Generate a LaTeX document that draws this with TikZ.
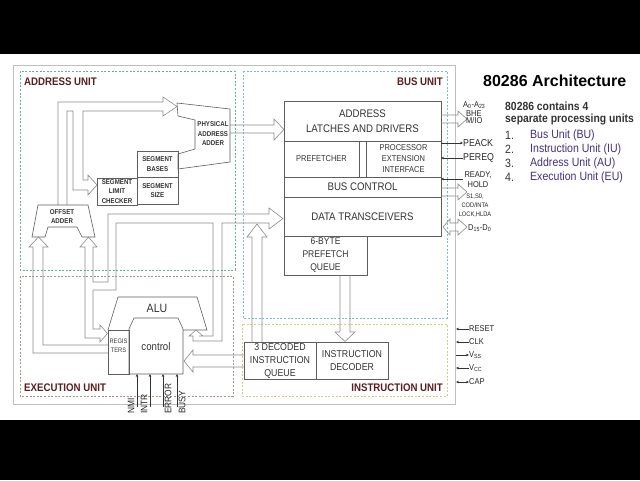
\documentclass[tikz,border=0pt]{standalone}
\usepackage{fontspec}
\setmainfont{Liberation Sans}
\newfontfamily\narrowfont{Liberation Sans}[FakeStretch=0.88]
\usetikzlibrary{arrows.meta}
\definecolor{unitred}{HTML}{5A1E1E}
\definecolor{listblue}{HTML}{46307F}
\definecolor{aucol}{HTML}{6AAE9C}
\definecolor{bucol}{HTML}{7DBCCB}
\definecolor{eucol}{HTML}{A8968A}
\definecolor{iucol}{HTML}{D8CA8A}
\definecolor{boxgray}{HTML}{5E5E5E}
\definecolor{pipegray}{HTML}{8C8C8C}
\definecolor{textgray}{HTML}{333333}
\newcommand{\nfs}[2]{\narrowfont\fontsize{#1}{#2}\selectfont}
\tikzset{
  shp/.style={draw=boxgray, line width=0.6pt},
  pipe/.style={draw=pipegray, line width=0.6pt, line join=miter},
  blk/.style={draw=boxgray, line width=0.6pt, inner sep=0pt, outer sep=0pt,
    align=center, text=textgray, font=\nfs{11}{14.5}},
  tinyblk/.style={blk, font=\nfs{7}{9.5}\bfseries},
  txt/.style={inner sep=0pt, align=center, text=textgray},
  unitbox/.style={dash pattern=on 2pt off 1.6pt, line width=0.7pt},
  unitlabel/.style={inner sep=0pt, text=unitred, font=\nfs{11}{12}\bfseries},
  sig/.style={inner sep=0pt, anchor=west, text=black!85, font=\nfs{10}{11}},
  sigline/.style={draw=black!80, line width=0.5pt},
  sigtip/.style={sigline, -{Stealth[length=3pt,width=2.6pt]}},
  tipin/.style={sigline, {Stealth[length=3pt,width=2.6pt]}-},
  tipboth/.style={sigline, {Stealth[length=3pt,width=2.6pt]}-{Stealth[length=3pt,width=2.6pt]}},
}
\begin{document}
\begin{tikzpicture}[x=1pt,y=-1pt]
  \useasboundingbox (0,0) rectangle (640,480);
  \fill[black] (0,0) rectangle (640,54);
  \fill[black] (0,420) rectangle (640,480);
  \fill[white] (0,54) rectangle (640,420);

  % outer frame and units
  \draw[black!25, line width=1pt] (13,65) rectangle (455,404);
  \draw[unitbox, aucol] (20,71) rectangle (235,270);
  \draw[unitbox, bucol] (243,71) rectangle (447,318);
  \draw[unitbox, eucol] (20,276) rectangle (233,396);
  \draw[unitbox, iucol] (242,324) rectangle (447,396);
  \node[unitlabel, anchor=west] (aulbl) at (24,82) {ADDRESS UNIT};
  \node[unitlabel, anchor=east] (bulbl) at (443,82) {BUS UNIT};
  \node[unitlabel, anchor=west] (eulbl) at (24,388) {EXECUTION UNIT};
  \node[unitlabel, anchor=east] (iulbl) at (443,388) {INSTRUCTION UNIT};

  % bus unit
  \node[blk, minimum width=157, minimum height=40] (latch) at (362.5,121) {ADDRESS\\LATCHES AND DRIVERS};
  \node[blk, font=\nfs{8.5}{11}, minimum width=75, minimum height=36] (pref) at (321.5,159) {PREFETCHER};
  \node[blk, font=\nfs{8.5}{11}, minimum width=75, minimum height=36] (pei) at (403.5,159) {PROCESSOR\\EXTENSION\\INTERFACE};
  \node[blk, minimum width=157, minimum height=20] (busctl) at (362.5,187) {BUS CONTROL};
  \node[blk, minimum width=157, minimum height=39] (datatr) at (362.5,216.5) {DATA TRANSCEIVERS};
  \node[blk, font=\nfs{9.7}{13}, minimum width=83, minimum height=39] (pfq) at (325.5,255.5) {6-BYTE\\PREFETCH\\QUEUE};

  % instruction unit
  \node[blk, font=\nfs{10}{13}, minimum width=72, minimum height=37] (dq) at (280,360.5) {3 DECODED\\INSTRUCTION\\QUEUE};
  \node[blk, font=\nfs{10}{13}, minimum width=72, minimum height=37] (idec) at (352,360.5) {INSTRUCTION\\DECODER};

  % address unit
  \draw[shp] (177,103) -- (230,109) -- (230,162) -- (178,169) -- (178,154)
    -- (195,149) -- (195,120) -- (178,116) -- cycle;
  \node[txt, font=\nfs{7}{9.5}\bfseries] (paa) at (213,134) {PHYSICAL\\ADDRESS\\ADDER};
  \node[tinyblk, minimum width=41, minimum height=26] (segb) at (157.5,164) {SEGMENT\\BASES};
  \node[tinyblk, minimum width=41, minimum height=27] (segs) at (157.5,190.5) {SEGMENT\\SIZE};
  \node[tinyblk, minimum width=40, minimum height=27] (seglim) at (117,191.5) {SEGMENT\\LIMIT\\CHECKER};
  \draw[shp] (38,205) -- (88,205) -- (95,237) -- (82,237) -- (77,227)
    -- (48,227) -- (45,237) -- (32,237) -- cycle;
  \node[txt, font=\nfs{7}{9.5}\bfseries] (offs) at (62,216.5) {OFFSET\\ADDER};

  % execution unit
  \draw[shp] (108,330) -- (118,297) -- (197,297) -- (207,330) -- (183,330);
  \node[txt, font=\nfs{12}{13}] (alu) at (157,308) {ALU};
  \node[blk, minimum width=21, minimum height=44] (regs) at (118.5,352) {};
  \node[txt, font=\nfs{6.5}{9}] (regtxt) at (118.5,345.5) {REGIS\\TERS};
  \draw[shp] (129,374) -- (129,329) -- (134,318) -- (178,318) -- (183,329) -- (183,374) -- cycle;
  \node[txt, font=\nfs{11}{12}] (ctl) at (156,347) {control};

  % wide arrows of the address unit
  \draw[pipe] (58,205) -- (58,102) -- (163,102) -- (163,97) -- (177,106.5)
    -- (163,116) -- (163,111) -- (83,111) -- (83,180) -- (88,180) -- (88,175)
    -- (97,185) -- (88,195) -- (88,190) -- (73,190) -- (73,111) -- (67,111) -- (67,205);
  \draw[pipe] (230,125) -- (274,125) -- (274,119) -- (284,129.5) -- (274,140)
    -- (274,133) -- (230,133);

  % wide arrows between the units
  \draw[pipe] (93,282) -- (108,282) -- (108,214) -- (269,214) -- (269,208)
    -- (283,218.5) -- (269,229) -- (269,223) -- (222,223) -- (222,341)
    -- (193,341) -- (193,336) -- (189,336) -- (196,330) -- (203,336)
    -- (199,336) -- (213,336) -- (213,223) -- (116,223) -- (116,290) -- (93,290);
  \draw[pipe] (252,342) -- (252,237) -- (247,237) -- (257,224) -- (267,237)
    -- (262,237) -- (262,342);
  \draw[pipe] (340,275) -- (340,332) -- (335,332) -- (345,341.5) -- (355,332)
    -- (350,332) -- (350,275);
  \draw[pipe] (244,355) -- (193,355) -- (193,350) -- (184,361) -- (193,372)
    -- (193,367) -- (244,367);
  \draw[pipe] (108,345) -- (43,345) -- (43,247) -- (48,247) -- (38.5,237)
    -- (29,247) -- (33,247) -- (33,353) -- (108,353);
  \draw[pipe] (93,282) -- (93,247) -- (97,247) -- (88.5,237) -- (80,247)
    -- (85,247) -- (85,338) -- (100,338) -- (100,342) -- (107.5,333.5)
    -- (100,325) -- (100,329) -- (93,329) -- (93,290);

  % bus signals
  \draw[pipe] (441,115) -- (458,115) -- (458,111) -- (467,119) -- (458,127)
    -- (458,123) -- (441,123);
  \node[sig, font=\nfs{8.5}{9}] (addr) at (463,105) {A\textsubscript{0}-A\textsubscript{23}};
  \node[sig, font=\nfs{8.5}{9}] (bhe) at (466,113.5) {BHE};
  \node[sig, font=\nfs{8.5}{9}] (mio) at (466,120.5) {M/IO};
  \node[sig] (peack) at (463,143) {PEACK};
  \node[sig] (pereq) at (463,158) {PEREQ};
  \draw[sigtip] (peack.west -| pei.east) -- (peack.west);
  \draw[sigtip] (pereq.west) -- (pereq.west -| pei.east);
  \node[txt, text=black!85, font=\nfs{8.5}{9.5}] (ready) at (478,179.5) {READY,\\HOLD};
  \coordinate (rdy) at (463,179);
  \draw[sigtip] (rdy) -- (rdy -| busctl.east);
  \draw[pipe] (441,188) -- (458,188) -- (458,184) -- (467,192) -- (458,200)
    -- (458,196) -- (441,196);
  \node[txt, text=black!85, font=\nfs{6.5}{9}] (stat) at (475,206) {S1,S0,\\COD/INTA\\LOCK,HLDA};
  \draw[pipe] (450,223) -- (458,223) -- (458,219) -- (467,227) -- (458,235)
    -- (458,231) -- (450,231) -- (450,235) -- (443,227) -- (450,219) -- cycle;
  \node[sig, font=\nfs{8.5}{9}] (dbus) at (468,228) {D\textsubscript{15}-D\textsubscript{0}};

  % supply and control pins
  \foreach \pin/\lab/\yy/\tip in {reset/RESET/329/tipin, clk/CLK/342/tipin,
      vss/V\textsubscript{SS}/355/sigtip, vcc/V\textsubscript{CC}/368/tipin, cap/CAP/382/tipboth} {
    \node[sig, font=\nfs{8.5}{9}] (\pin) at (469,\yy) {\lab};
    \draw[\tip] (456,\yy) -- (\pin.west);
  }

  % execution unit inputs
  \foreach \pin/\lab/\xx/\lx in {nmi/NMI/137/131, intr/INTR/150/144,
      err/ERROR/163/168, busy/BUSY/177/182} {
    \node[inner sep=0pt, rotate=90, anchor=west, text=black!85, font=\nfs{9.5}{10}] (\pin) at (\lx,414) {\lab};
    \draw[sigtip] (\xx,407) -- (\xx,374);
  }

  % text on the right
  \node[inner sep=0pt, anchor=west, font=\fontsize{16}{19}\selectfont\bfseries] (title) at (483,80.5) {80286 Architecture};
  \node[inner sep=0pt, anchor=west, text=textgray, font=\nfs{11.8}{14}\bfseries] (intro) at (505,106) {80286 contains 4};
  \node[inner sep=0pt, anchor=west, text=textgray, font=\nfs{11.8}{14}\bfseries] (intro2) at (505,119.5) {separate processing units};
  \foreach \n/\unit in {1/Bus Unit (BU), 2/Instruction Unit (IU), 3/Address Unit (AU), 4/Execution Unit (EU)} {
    \node[inner sep=0pt, anchor=west, text=textgray, font=\nfs{12}{14}] (num\n) at (505,121+14*\n) {\n.};
    \node[inner sep=0pt, anchor=west, text=listblue, font=\nfs{12}{14}] (item\n) at (530,121+14*\n) {\unit};
  }
\end{tikzpicture}
\end{document}
